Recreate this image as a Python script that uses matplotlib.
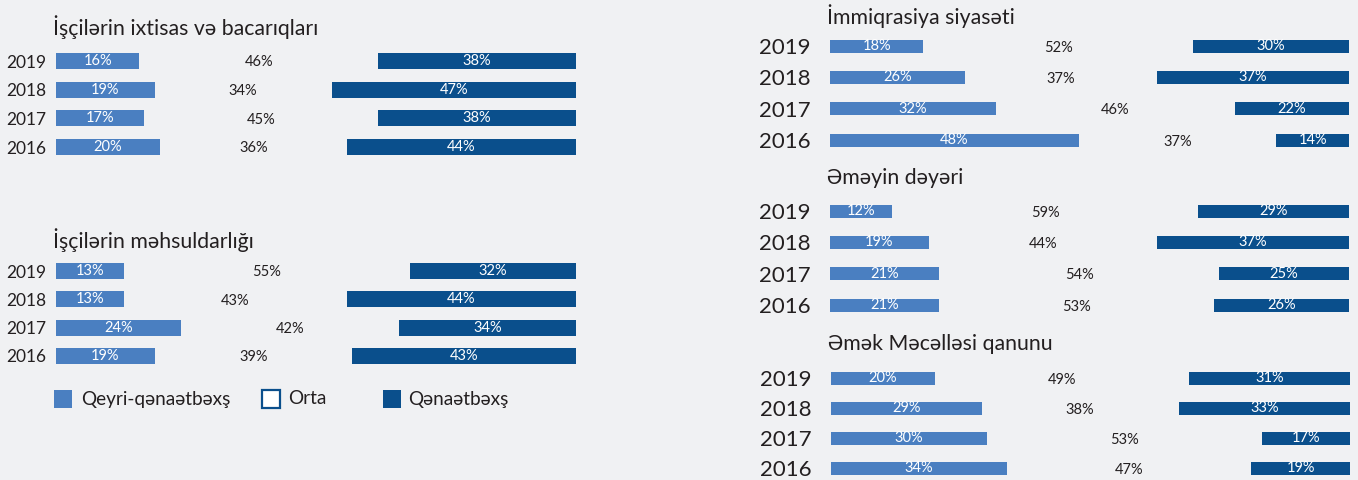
import numpy as np
import matplotlib.pyplot as plt
from matplotlib.patches import Rectangle

plt.rcParams['font.family'] = ['Lato', 'DejaVu Sans']

years = ['2019', '2018', '2017', '2016']

# Qeyri-qənaətbəxş / Orta / Qənaətbəxş, in %
skills_low = [16, 19, 17, 20]
skills_mid = [46, 34, 45, 36]
skills_high = [38, 47, 38, 44]

prod_low = [13, 13, 24, 19]
prod_mid = [55, 43, 42, 39]
prod_high = [32, 44, 34, 43]

immig_low = [18, 26, 32, 48]
immig_mid = [52, 37, 46, 37]
immig_high = [30, 37, 22, 14]

value_low = [12, 19, 21, 21]
value_mid = [59, 44, 54, 53]
value_high = [29, 37, 25, 26]

code_low = [20, 29, 30, 34]
code_mid = [49, 38, 53, 47]
code_high = [31, 33, 17, 19]

legend_labels = ['Qeyri-qənaətbəxş', 'Orta', 'Qənaətbəxş']

LIGHT = '#4a7fc1'
DARK = '#0a4f8c'
BG = '#f0f1f3'
TXT = '#231f20'

W, H = 1358, 480
fig = plt.figure(figsize=(W / 100, H / 100), dpi=100)
fig.patch.set_facecolor(BG)


def group(title, low, mid, high, x0, x1, y_first, y_last, bar_px,
          title_y, year_fs, year_pad):
    step = (y_last - y_first) / 3
    top = y_first - step / 2
    bottom = y_last + step / 2
    ax = fig.add_axes([x0 / W, 1 - bottom / H, (x1 - x0) / W, (bottom - top) / H])
    ax.set_facecolor('none')
    ax.set_xlim(0, 100)
    ax.set_ylim(3.5, -0.5)
    y = np.arange(len(years))
    low = np.array(low)
    high = np.array(high)
    h = bar_px / step
    ax.barh(y, low, height=h, color=LIGHT)
    ax.barh(y, high, left=100 - high, height=h, color=DARK)
    for i in range(len(years)):
        ax.text(low[i] / 2, y[i], f'{low[i]}%', ha='center', va='center',
                color='white', fontsize=10.5)
        ax.text(100 - high[i] / 2, y[i], f'{high[i]}%', ha='center', va='center',
                color='white', fontsize=10.5)
        ax.text((low[i] + 100 - high[i]) / 2, y[i] + 0.05, f'{mid[i]}%',
                ha='center', va='center', color=TXT, fontsize=10.5)
    ax.set_yticks(y, years)
    ax.set_xticks([])
    ax.tick_params(axis='y', length=0, pad=year_pad, labelsize=year_fs,
                   labelcolor=TXT)
    for s in ax.spines.values():
        s.set_visible(False)
    fig.text(x0 / W - 0.002, 1 - title_y / H, title, fontsize=15.3, color=TXT,
             va='center', ha='left')


# left column
group('İşçilərin ixtisas və bacarıqları', skills_low, skills_mid, skills_high,
      56, 576, 61, 147, 16, 27, 12.5, 7)
group('İşçilərin məhsuldarlığı', prod_low, prod_mid, prod_high,
      56, 576, 271, 356, 16, 240, 12.5, 7)

# right column
group('İmmiqrasiya siyasəti', immig_low, immig_mid, immig_high,
      830, 1349, 46, 140, 13, 16, 16, 14)
group('Əməyin dəyəri', value_low, value_mid, value_high,
      830, 1349, 211, 305, 13, 178, 16, 14)
group('Əmək Məcəlləsi qanunu', code_low, code_mid, code_high,
      831, 1350, 378, 468, 13, 344, 16, 14)

# legend
box_x = [54, 262, 383]
text_x = [81, 288, 408]
faces = [LIGHT, 'white', DARK]
for bx, tx, fc, lab in zip(box_x, text_x, faces, legend_labels):
    fig.patches.append(Rectangle((bx / W, 1 - 408 / H), 18 / W, 18 / H,
                                 transform=fig.transFigure, facecolor=fc,
                                 edgecolor=DARK, linewidth=1.6 if fc == 'white' else 0))
    fig.text(tx / W, 1 - 399 / H, lab, fontsize=13.7, color=TXT, va='center')

fig.savefig('out.png', dpi=100, facecolor=BG)
